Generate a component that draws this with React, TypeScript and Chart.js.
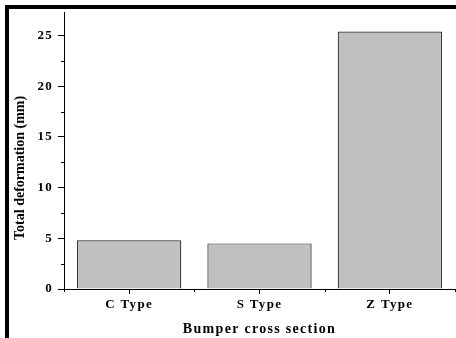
import React, { useEffect, useRef } from "react";
import { Chart, registerables } from "chart.js";

Chart.register(...registerables);

const categories = ["C Type", "S Type", "Z Type"];
const deformation = [4.8, 4.5, 25.4];
const yMajorTicks = [0, 5, 10, 15, 20, 25];
const yMinorTicks = [2.5, 7.5, 12.5, 17.5, 22.5];
const yMax = 27.25;
const xTitle = "Bumper cross section";
const yTitle = "Total deformation (mm)";

const FONT = "'Liberation Serif', 'Times New Roman', serif";

const framePlugin = {
  id: "frame",
  beforeDraw(chart: any) {
    const ctx = chart.ctx;
    ctx.save();
    ctx.fillStyle = "#ffffff";
    ctx.fillRect(0, 0, chart.width, chart.height);
    ctx.fillStyle = "#000000";
    ctx.fillRect(5, 5, 4, chart.height - 5);
    ctx.fillRect(5, 5, chart.width - 5, 4);
    ctx.restore();
    ctx.letterSpacing = "1.3px";
  },
  afterDatasetsDraw(chart: any) {
    const ctx = chart.ctx;
    ctx.letterSpacing = "0px";
    ctx.save();
    ctx.translate(0, 17);
  },
  afterDraw(chart: any) {
    const ctx = chart.ctx;
    ctx.restore();
    const ys = chart.scales.y;
    const xs = chart.scales.x;
    const area = chart.chartArea;
    ctx.save();
    ctx.strokeStyle = "#000000";
    ctx.lineWidth = 1;
    ctx.beginPath();
    for (const v of yMinorTicks) {
      const y = Math.round(ys.getPixelForValue(v)) + 0.5;
      ctx.moveTo(area.left - 3, y);
      ctx.lineTo(area.left, y);
    }
    for (let i = 0; i <= categories.length; i++) {
      const x = Math.round(xs.getPixelForValue(i - 0.5)) + 0.5;
      ctx.moveTo(x, area.bottom);
      ctx.lineTo(x, area.bottom + 3);
    }
    ctx.stroke();
    ctx.restore();
  },
};

export default function App() {
  const ref = useRef<HTMLCanvasElement | null>(null);
  useEffect(() => {
    if (!ref.current) return;
    const chart = new Chart(ref.current, {
      type: "bar",
      data: {
        labels: categories,
        datasets: [
          {
            data: deformation,
            backgroundColor: "#c0c0c0",
            borderColor: "#2a2a2a",
            borderWidth: 1.2,
            barPercentage: 0.8,
            categoryPercentage: 1,
          },
        ],
      },
      options: {
        animation: false,
        responsive: false,
        maintainAspectRatio: false,
        layout: { padding: { left: 0, top: 11, right: 1, bottom: 0 } },
        plugins: {
          legend: { display: false },
          tooltip: { enabled: false },
        },
        scales: {
          x: {
            offset: true,
            grid: {
              offset: false,
              drawOnChartArea: false,
              drawTicks: true,
              tickLength: 5,
              color: "#000000",
            },
            border: { display: true, color: "#000000", width: 1 },
            ticks: {
              color: "#000000",
              padding: 3,
              font: { family: FONT, size: 13, weight: "bold" },
              maxRotation: 0,
            },
            title: {
              display: true,
              text: xTitle,
              color: "#000000",
              padding: { top: 0, bottom: 0 },
              font: { family: FONT, size: 14, weight: "bold" },
            },
            afterFit(scale: any) {
              scale.height = 49;
            },
          },
          y: {
            position: "left",
            weight: 0,
            min: 0,
            max: yMax,
            grid: {
              drawOnChartArea: false,
              drawTicks: true,
              tickLength: 6,
              color: "#000000",
            },
            border: { display: true, color: "#000000", width: 1 },
            ticks: {
              color: "#000000",
              padding: 5,
              font: { family: FONT, size: 13, weight: "bold" },
            },
            afterBuildTicks(scale: any) {
              scale.ticks = yMajorTicks.map((v) => ({ value: v }));
            },
            title: { display: false },
            afterFit(scale: any) {
              scale.width = 36;
            },
          },
          yTitleAxis: {
            type: "linear",
            position: "left",
            weight: 1,
            grid: { display: false, drawTicks: false, z: 1 },
            border: { display: false, z: 1 },
            ticks: { display: false, z: 1 },
            title: {
              display: true,
              text: yTitle,
              color: "#000000",
              padding: { top: 12, bottom: 0 },
              font: { family: FONT, size: 14, weight: "bold" },
            },
            afterFit(scale: any) {
              scale.width = 28;
            },
          },
        },
      },
      plugins: [framePlugin],
    });
    return () => chart.destroy();
  }, []);
  return (
    <div style={{ position: "fixed", left: 0, top: 0, width: 456, height: 338, background: "#fff" }}>
      <canvas ref={ref} width={456} height={338} style={{ display: "block" }} />
    </div>
  );
}
